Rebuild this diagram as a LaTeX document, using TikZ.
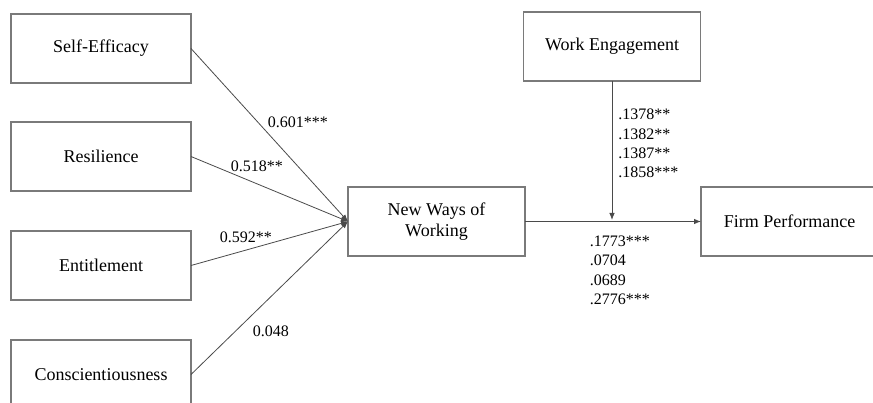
\documentclass[tikz,border=0pt]{standalone}
\usepackage{fontspec}
\setmainfont{Liberation Serif}
\usepackage{tikz}
\usetikzlibrary{arrows.meta,positioning}
\definecolor{boxgray}{HTML}{7A7A7A}
\definecolor{linegray}{HTML}{4A4A4A}
\tikzset{
  factor/.style={draw=boxgray,line width=1.1pt,fill=white,align=center,inner sep=0pt,outer sep=0pt,
    minimum width=180pt,minimum height=69pt,font=\fontsize{18}{21}\selectfont},
  construct/.style={factor,minimum width=177pt},
  path/.style={-{Latex[length=7pt,width=5.5pt]},draw=linegray,line width=0.8pt},
  coef/.style={inner sep=1pt,font=\fontsize{16}{19.3}\selectfont,align=left,text=black},
}
\begin{document}
\begin{tikzpicture}[x=1pt,y=-1pt,node distance=40pt and 176pt]
  \useasboundingbox (0,0) rectangle (873,403);
  \node[factor] (selfeff) at (101,48.5) {Self-Efficacy};
  \node[factor,below=39pt of selfeff] (resil) {Resilience};
  \node[factor,below=of resil] (entit) {Entitlement};
  \node[factor,below=of entit] (consc) {Conscientiousness};
  \node[construct] (nww) at (436.5,221.5) {New Ways of\\Working};
  \node[construct,right=of nww] (perf) {Firm Performance};
  \node[construct] (engage) at (612,46.5) {Work Engagement};
  \coordinate (join) at (engage.south |- nww.east);
  % predictors -> NWW
  \draw[path] (selfeff.east) -- node[coef,pos=0.424,right=9pt]{0.601***} (nww.west);
  \draw[path] (resil.east) -- node[coef,pos=0.42,above=11pt]{0.518**} (nww.west);
  \draw[path] (entit.east) -- node[coef,pos=0.35,above=6pt]{0.592**} (nww.west);
  \draw[path] (consc.east) -- node[coef,pos=0.283,right=16pt]{0.048} (nww.west);
  % NWW -> performance, moderated by engagement
  \draw[path] (nww.east) -- node[coef,pos=0.36,anchor=north west,yshift=-13pt]{.1773***\\.0704\\.0689\\.2776***} (perf.west);
  \draw[path,shorten >=1.5pt] (engage.south) -- node[coef,pos=0.445,right=5pt]{.1378**\\.1382**\\.1387**\\.1858***} (join);
\end{tikzpicture}
\end{document}
